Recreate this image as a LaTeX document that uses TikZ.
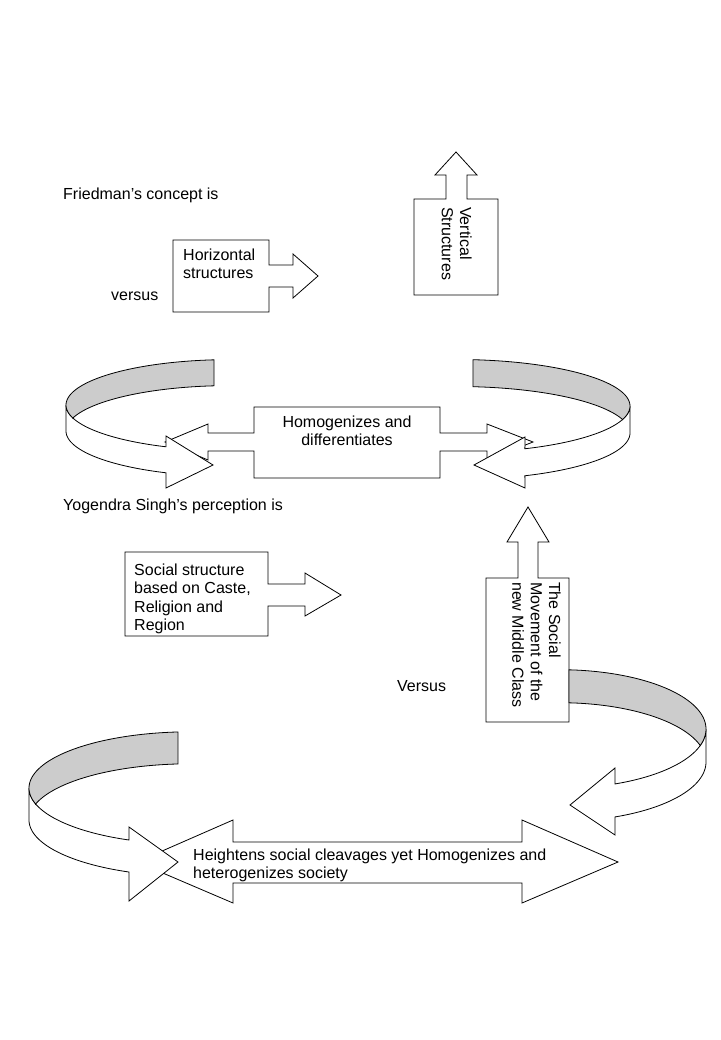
\documentclass[tikz,border=0pt]{standalone}
\usepackage{fontspec}
\setmainfont{Liberation Sans}
\begin{document}
\begin{tikzpicture}[x=1pt,y=-1pt,
    callout/.style={draw,fill=white,line width=0.8pt},
    inside/.style={draw,fill=black!20,line width=0.8pt},
    txt/.style={font=\fontsize{16}{18.4}\selectfont,inner sep=0pt,align=left}]
  \useasboundingbox (0,0) rectangle (720,1040);
  % box callouts
  \draw[callout] (173,240) -- (269,240) -- (269,265) -- (293,265) -- (293,254) -- (318,276)
    -- (293,298) -- (293,287) -- (269,287) -- (269,312) -- (173,312) -- cycle;
  \draw[callout] (414,199) -- (446,199) -- (446,175) -- (435,175) -- (456,152) -- (477,175)
    -- (467,175) -- (467,199) -- (498,199) -- (498,295) -- (414,295) -- cycle;
  \draw[callout] (254,407) -- (440,407) -- (440,433) -- (487,433) -- (487,424) -- (533,442)
    -- (487,460) -- (487,451) -- (440,451) -- (440,478) -- (254,478) -- (254,451) -- (208,451)
    -- (208,460) -- (165,442) -- (208,424) -- (208,433) -- (254,433) -- cycle;
  \draw[callout] (125,552) -- (268,552) -- (268,584) -- (305,584) -- (305,573) -- (341,595)
    -- (305,616) -- (305,606) -- (268,606) -- (268,636) -- (125,636) -- cycle;
  \draw[callout] (486,578) -- (518,578) -- (518,542) -- (507,542) -- (528,507) -- (549,542)
    -- (538,542) -- (538,578) -- (569,578) -- (569,722) -- (486,722) -- cycle;
  \draw[callout] (233,842) -- (522,842) -- (522,820) -- (618,862) -- (522,903) -- (522,883)
    -- (233,883) -- (233,903) -- (137,862) -- (233,820) -- cycle;
  % curved ribbons
  \foreach \cx/\cy/\rx/\ry/\hh/\sa/\ma/\ta/\ba/\ea/\hx/\hu/\tx/\ty/\hl in {
      230/405/164/45.4/26/264.4/180/163.4/196.6/113.0/166/436/213/465/488,
      457/406/173/46.5/27/275.3/360/376.9/343.1/426.9/525/437/474/465/488,
      190/788/161/56.2/32/265.7/180/163.5/196.5/112.3/129/827/178/862/901,
      560/729/146/59.3/33/273.5/360/376.2/343.8/427.9/615/768/570/805/835}{
    \draw[callout] plot[domain=\ma:\ea,samples=40] ({\cx+\rx*cos(\x)},{\cy+\ry*sin(\x)})
      -- (\hx,\hu) -- (\tx,\ty) -- (\hx,\hl)
      -- plot[domain=\ea:\ma,samples=40] ({\cx+\rx*cos(\x)},{\cy+\hh+\ry*sin(\x)}) -- cycle;
    \draw[inside] plot[domain=\sa:\ma,samples=40] ({\cx+\rx*cos(\x)},{\cy+\ry*sin(\x)})
      -- plot[domain=\ma:\ta,samples=10] ({\cx+\rx*cos(\x)},{\cy+\ry*sin(\x)})
      -- plot[domain=\ba:\sa,samples=40] ({\cx+\rx*cos(\x)},{\cy+\hh+\ry*sin(\x)}) -- cycle;
  }
  % texts
  \node[txt,anchor=base west] (fried) at (63,200) {Friedman's concept is};
  \node[txt,anchor=base west] (versusA) at (111,301) {versus};
  \node[txt,anchor=north west] (horiz) at (183,248.5) {Horizontal\\structures};
  \node[txt,anchor=north west,rotate=-90] (vert) at (472,207) {Vertical\\Structures};
  \node[txt,align=center,anchor=north] (homog) at (347,415.5) {Homogenizes and\\differentiates};
  \node[txt,anchor=base west] (yogendra) at (63,510) {Yogendra Singh's perception is};
  \node[txt,anchor=north west] (social) at (134,563.5) {Social structure\\based on Caste,\\Religion and\\Region};
  \node[txt,anchor=base west] (versusB) at (397,691) {Versus};
  \node[txt,anchor=north west,rotate=-90] (movement) at (561,582) {The Social\\Movement of the\\new Middle Class};
  \node[txt,anchor=north west] (heighten) at (193,848.5) {Heightens social cleavages yet Homogenizes and\\heterogenizes society};
\end{tikzpicture}
\end{document}
